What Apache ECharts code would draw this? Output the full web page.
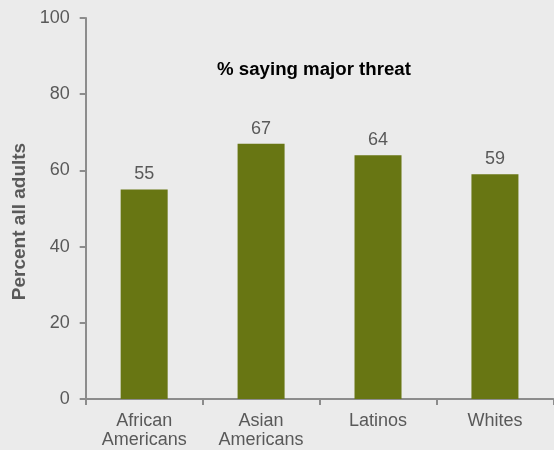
<!DOCTYPE html>
<html><head><meta charset="utf-8">
<script src="https://cdn.jsdelivr.net/npm/echarts@6/dist/echarts.min.js"></script>
<style>html,body{margin:0;padding:0;background:#ebebeb}#c{width:554px;height:450px}</style>
</head><body><div id="c"></div>
<script>
const categories = ['African\nAmericans', 'Asian\nAmericans', 'Latinos', 'Whites'];
const values = [55, 67, 64, 59];
const yTicks = [0, 20, 40, 60, 80, 100];

const chart = echarts.init(document.getElementById('c'), null, {renderer: 'canvas'});
chart.setOption({
  backgroundColor: '#ebebeb',
  animation: false,
  title: {
    text: '% saying major threat',
    left: 309, top: 55, textAlign: 'center',
    textStyle: {fontFamily: 'Liberation Sans', fontSize: 18.67, fontWeight: 'bold', color: '#000'}
  },
  grid: {left: 85.7, right: 0.6, top: 18, bottom: 50.5, containLabel: false},
  xAxis: {
    type: 'category', data: categories,
    axisLine: {lineStyle: {color: '#8c8c8c', width: 2}},
    axisTick: {show: true, length: 6, alignWithLabel: false, lineStyle: {color: '#8c8c8c', width: 2}},
    axisLabel: {fontFamily: 'Liberation Sans', fontSize: 18, color: '#595959', margin: 13, lineHeight: 19}
  },
  yAxis: {
    type: 'value', min: yTicks[0], max: yTicks[yTicks.length - 1], interval: 20,
    name: 'Percent all adults', nameLocation: 'middle', nameGap: 55, nameRotate: 90,
    nameTextStyle: {fontFamily: 'Liberation Sans', fontSize: 19, fontWeight: 'bold', color: '#595959', padding: [0, 26, 0, 0]},
    splitLine: {show: false},
    axisLine: {show: true, lineStyle: {color: '#8c8c8c', width: 2}},
    axisTick: {show: true, length: 6, lineStyle: {color: '#8c8c8c', width: 2}},
    axisLabel: {fontFamily: 'Liberation Sans', fontSize: 18, color: '#595959', margin: 16}
  },
  series: [{
    type: 'bar', data: values, barWidth: 47,
    itemStyle: {color: '#687613'},
    label: {show: true, position: 'top', distance: 6, fontFamily: 'Liberation Sans', fontSize: 18, color: '#595959'}
  }]
});
</script></body></html>
